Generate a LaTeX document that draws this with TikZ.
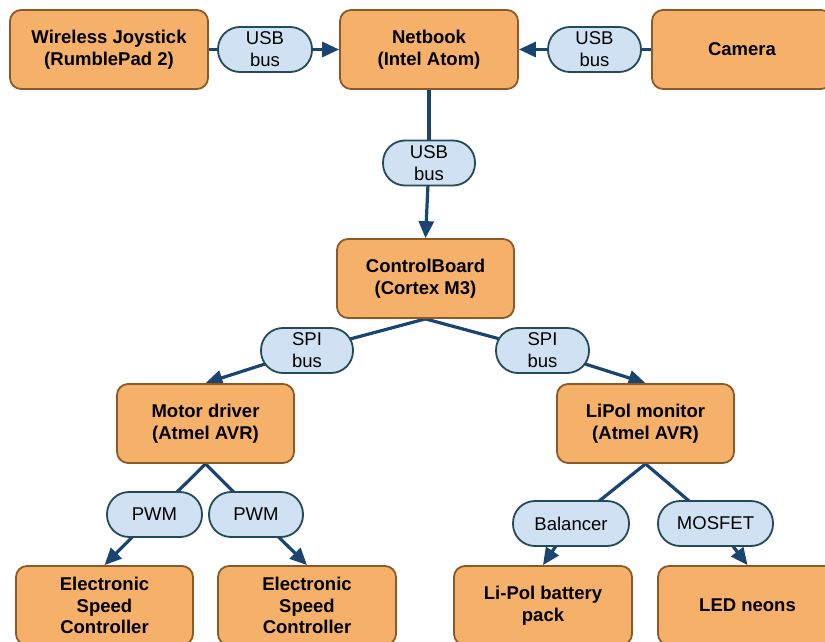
\documentclass[tikz,border=0pt]{standalone}
\usepackage{fontspec}
\setmainfont{Liberation Sans}
\usetikzlibrary{arrows.meta,backgrounds}
\definecolor{boxfill}{HTML}{F5B06A}
\definecolor{boxdraw}{HTML}{8C5A28}
\definecolor{pillfill}{HTML}{CFE1F2}
\definecolor{pilldraw}{HTML}{234B57}
\definecolor{linecol}{HTML}{1B4571}
\tikzset{
  unit/.style={draw=boxdraw, fill=boxfill, line width=1.8pt, rounded corners=11pt,
    minimum height=79pt, inner sep=0pt, align=center,
    font=\fontsize{18.5}{21.5}\selectfont\bfseries},
  pill/.style={draw=pilldraw, fill=pillfill, line width=1.8pt, rounded corners=22pt,
    minimum height=45pt, inner sep=0pt, align=center,
    font=\fontsize{18.5}{22}\selectfont},
  link/.style={draw=linecol, line width=3.2pt},
  arr/.style={link, -{Triangle[length=17pt,width=15pt]}},
}
\begin{document}
\begin{tikzpicture}[x=1pt,y=-1pt]
\useasboundingbox (0,0) rectangle (825,642);
% units
\node[unit, minimum width=198pt] (joy) at (109,49.5) {Wireless Joystick\\(RumblePad 2)};
\node[unit, minimum width=178pt] (net) at (429,49.5) {Netbook\\(Intel Atom)};
\node[unit, minimum width=180pt] (cam) at (742,49.5) {Camera};
\node[unit, minimum width=177pt] (cb) at (425.5,278.5) {ControlBoard\\(Cortex M3)};
\node[unit, minimum width=177pt] (md) at (205.5,423.5) {Motor driver\\(Atmel AVR)};
\node[unit, minimum width=177pt] (lp) at (645.5,423.5) {LiPol monitor\\(Atmel AVR)};
\node[unit, minimum width=177pt] (esc1) at (104.5,605.5) {Electronic\\Speed\\Controller};
\node[unit, minimum width=178pt] (esc2) at (307,605.5) {Electronic\\Speed\\Controller};
\node[unit, minimum width=178pt] (bat) at (543,605.5) {Li-Pol battery\\pack};
\node[unit, minimum width=179pt] (led) at (747.5,605.5) {LED neons};
% pills
\node[pill, minimum width=94pt] (usb1) at (265,49.5) {USB\\bus};
\node[pill, minimum width=93pt] (usb2) at (594.5,49.5) {USB\\bus};
\node[pill, minimum width=92pt] (usb3) at (429,163) {USB\\bus};
\node[pill, minimum width=92pt] (spi1) at (307,350.5) {SPI\\bus};
\node[pill, minimum width=93pt] (spi2) at (542.5,350.5) {SPI\\bus};
\node[pill, minimum width=95pt] (pwm1) at (154.5,514.5) {PWM};
\node[pill, minimum width=94pt] (pwm2) at (256,514.5) {PWM};
\node[pill, minimum width=116pt] (bal) at (571,523.5) {Balancer};
\node[pill, minimum width=115pt] (mos) at (715.5,523.5) {MOSFET};
% connectors (behind the nodes)
\begin{scope}[on background layer]
\draw[link] (joy.east) -- (usb1.center);
\draw[arr] (usb1.center) -- (net.west);
\draw[link] (cam.west) -- (usb2.center);
\draw[arr] (usb2.center) -- (net.east);
\draw[link] (net.south) -- (usb3.center);
\draw[arr] (usb3.center) -- (cb.north);
\draw[link] (cb.south) -- (spi1.center);
\draw[arr] (spi1.center) -- (md.north);
\draw[link] (cb.south) -- (spi2.center);
\draw[arr] (spi2.center) -- (lp.north);
\draw[link] (md.south) -- (pwm1.center);
\draw[arr] (pwm1.center) -- (esc1.north);
\draw[link] (md.south) -- (pwm2.center);
\draw[arr] (pwm2.center) -- (esc2.north);
\draw[link] (lp.south) -- (bal.center);
\draw[arr] (bal.center) -- (bat.north);
\draw[link] (lp.south) -- (mos.center);
\draw[arr] (mos.center) -- (led.north);
\end{scope}
\end{tikzpicture}
\end{document}
